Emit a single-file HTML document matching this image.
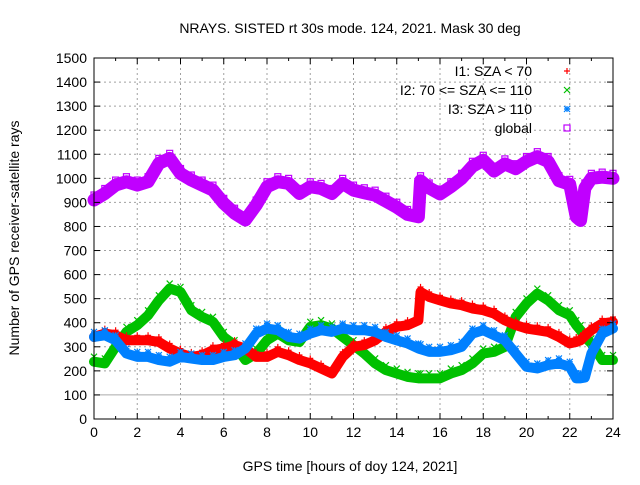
<!DOCTYPE html>
<html><head><meta charset="utf-8"><style>
body{margin:0;background:#fff}
svg{font-family:"Liberation Sans",sans-serif;font-size:14px}
</style></head><body>
<svg id="c" width="640" height="480" xmlns="http://www.w3.org/2000/svg">
<text x="350" y="33" text-anchor="middle">NRAYS. SISTED rt 30s mode. 124, 2021. Mask 30 deg</text>
<text x="350" y="471" text-anchor="middle">GPS time [hours of doy 124, 2021]</text>
<text transform="translate(19,238) rotate(-90)" text-anchor="middle">Number of GPS receiver-satellite rays</text>
<g id="grid"></g><g id="series"></g><g id="axes"></g><g id="legend"></g>
</svg>
<script>
const hours=[0,0.5,1,1.5,2,2.5,3,3.5,4,4.5,5,5.5,6,6.5,7,7.5,8,8.5,9,9.5,10,10.5,11,11.5,12,12.5,13,13.5,14,14.5,15,15.1,15.5,16,16.5,17,17.5,18,18.5,19,19.5,20,20.5,21,21.5,22,22.3,22.5,22.7,23,23.5,24];
const globalVals=[910,937,972,986,972,986,1062,1083,1020,993,972,951,896,855,827,889,965,986,979,937,965,958,937,979,951,940,930,905,880,850,840,990,960,935,965,1000,1050,1075,1030,1060,1040,1070,1090,1070,990,975,840,825,960,1000,1005,1000];
const i1Vals=[341,355,348,327,327,327,320,293,272,258,265,286,293,307,293,258,258,279,265,245,231,210,189,258,300,307,327,362,383,390,410,528,507,493,480,473,459,452,438,410,390,376,369,362,341,314,320,327,345,369,397,403];
const i2Vals=[238,231,300,362,390,431,493,542,528,452,424,404,341,307,245,272,327,355,327,320,383,390,376,341,307,272,231,203,189,175,169,169,169,169,189,203,231,272,279,300,424,480,521,493,452,431,390,369,340,314,245,245];
const i3Vals=[341,348,327,272,258,258,245,238,258,251,245,245,258,265,293,355,376,369,341,334,355,369,362,376,369,369,362,341,327,314,293,290,279,279,286,300,355,369,348,327,272,217,210,224,231,217,169,169,172,272,355,376];
const xTicks=[0,2,4,6,8,10,12,14,16,18,20,22,24];
const yTicks=[0,100,200,300,400,500,600,700,800,900,1000,1100,1200,1300,1400,1500];
const X0=94,X1=613,Y0=419,Y1=58;
const xs=h=>X0+(X1-X0)*h/24, ys=v=>Y0-(Y0-Y1)*v/1500;
const NS='http://www.w3.org/2000/svg';
function mk(p,t,a){const e=document.createElementNS(NS,t);for(const k in a)e.setAttribute(k,a[k]);p.appendChild(e);return e;}
const grid=document.getElementById('grid'),axes=document.getElementById('axes'),ser=document.getElementById('series'),leg=document.getElementById('legend');
xTicks.forEach(t=>{const x=xs(t);
 if(t>0&&t<24){const g=mk(grid,'line',{x1:x,x2:x,y1:Y1,y2:Y0,stroke:'#a0a0a0','stroke-dasharray':'2,3'});
 
 }
 const l=mk(axes,'text',{x:x,y:Y0+18,'text-anchor':'middle'});l.textContent=t;
 
 
 mk(axes,'line',{x1:x,x2:x,y1:Y0,y2:Y0-6,stroke:'#000'});mk(axes,'line',{x1:x,x2:x,y1:Y1,y2:Y1+6,stroke:'#000'});
 if(t<24){const xm=xs(t+1);mk(axes,'line',{x1:xm,x2:xm,y1:Y0,y2:Y0-3,stroke:'#000'});mk(axes,'line',{x1:xm,x2:xm,y1:Y1,y2:Y1+3,stroke:'#000'});}
});
yTicks.forEach(t=>{const y=ys(t);
 if(t>0&&t<1500){const g=mk(grid,'line',{x1:X0,x2:X1,y1:y,y2:y,stroke:t==100?'#aaaaaa':'#a0a0a0','stroke-dasharray':t==100?'none':'2,3'});
 
 }
 const l=mk(axes,'text',{x:X0-7,y:y+5,'text-anchor':'end'});l.textContent=t;
 
 
 mk(axes,'line',{x1:X0,x2:X0+6,y1:y,y2:y,stroke:'#000'});mk(axes,'line',{x1:X1,x2:X1-6,y1:y,y2:y,stroke:'#000'});
});
const fr=mk(axes,'rect',{x:X0,y:Y1,width:X1-X0,height:Y0-Y1,fill:'none',stroke:'#000'});


function marker(p,type,x,y,c){
 if(type=='plus'){mk(p,'path',{d:`M${x-3} ${y}h6M${x} ${y-3}v6`,stroke:c,'stroke-width':1.2,fill:'none'});}
 else if(type=='x'){mk(p,'path',{d:`M${x-3} ${y-3}l6 6M${x-3} ${y+3}l6 -6`,stroke:c,'stroke-width':1.2,fill:'none'});}
 else if(type=='star'){mk(p,'path',{d:`M${x-3} ${y}h6M${x} ${y-3}v6M${x-3} ${y-3}l6 6M${x-3} ${y+3}l6 -6`,stroke:c,'stroke-width':1.2,fill:'none'});}
 else {mk(p,'rect',{x:x-3,y:y-3,width:6,height:6,stroke:c,'stroke-width':1.2,fill:'none'});}
}
const defs=[['global',globalVals,'#c000ff','sq'],['i1',i1Vals,'#ff0000','plus'],['i2',i2Vals,'#00c000','x'],['i3',i3Vals,'#0080ff','star']];
[defs[2],defs[1],defs[3],defs[0]].forEach(([n,vals,c,m])=>{
 const g=mk(ser,'g',{});
 
 
 const pts=vals.map((v,i)=>xs(hours[i])+','+ys(v)).join(' ');
 mk(g,'polyline',{points:pts,fill:'none',stroke:c,'stroke-width':m=='sq'?13:10,'stroke-linejoin':'round','stroke-linecap':'round'});
 vals.forEach((v,i)=>marker(g,m,xs(hours[i]),ys(v)-5,c));
});
const labels=['I1: SZA < 70','I2: 70 <= SZA <= 110','I3: SZA > 110','global'];
const lc=['#ff0000','#00c000','#0080ff','#c000ff'],lm=['plus','x','star','sq'];
labels.forEach((t,i)=>{const y=71+i*19;
 const g=mk(leg,'g',{});
 
 
 const tx=mk(g,'text',{x:532,y:y+5,'text-anchor':'end'});tx.textContent=t;
 marker(g,lm[i],567,y,lc[i]);
});
</script>
</body></html>
